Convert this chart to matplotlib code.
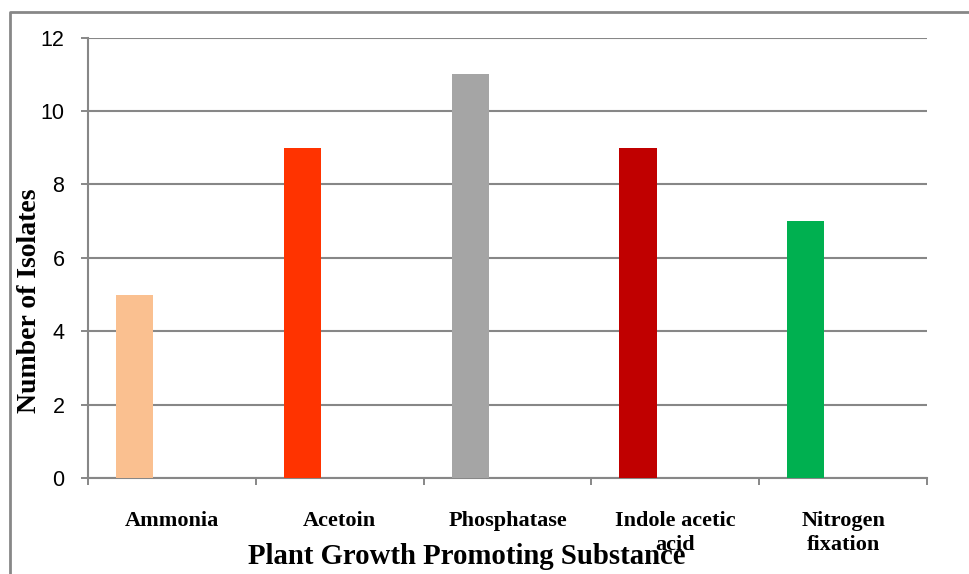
import numpy as np
import matplotlib
matplotlib.use("Agg")
import matplotlib.pyplot as plt
from matplotlib.lines import Line2D

# isolate counts per plant growth promoting substance
categories = ["Ammonia", "Acetoin", "Phosphatase", "Indole acetic\nacid", "Nitrogen\nfixation"]
isolates = [5, 9, 11, 9, 7]
colors = ["#FAC090", "#FF3300", "#A5A5A5", "#C00000", "#00B050"]
yticks = [0, 2, 4, 6, 8, 10, 12]

grey = "#878787"
serif = ["Liberation Serif", "DejaVu Serif"]
sans = ["Liberation Sans", "DejaVu Sans"]

fig = plt.figure(figsize=(9.69, 5.74), dpi=100)
ax = fig.add_axes([88 / 969, 1 - 478 / 574, (927 - 88) / 969, (478 - 37.7) / 574])

# excel-style cluster: 3 slots per category, 150% gap, first slot used
w = 1 / 4.5
x = np.arange(len(categories))
ax.bar(x - w, isolates, width=w, color=colors, zorder=3)

ax.set_xlim(-0.5, len(categories) - 0.5)
ax.set_ylim(0, 12)
ax.set_yticks(yticks)
ax.set_yticklabels([str(v) for v in yticks], fontfamily=sans, fontsize=15.5)
ax.tick_params(axis="y", length=5, width=1.4, color=grey, pad=12)
ax.yaxis.grid(True, color=grey, linewidth=1.5, zorder=0)

# category boundaries carry the tick marks, labels sit at the centers
ax.set_xticks(np.arange(len(categories) + 1) - 0.5)
ax.set_xticklabels([])
ax.tick_params(axis="x", which="major", length=5, width=1.4, color=grey, direction="out")
ax.set_xticks(x, minor=True)
ax.set_xticklabels(categories, minor=True, fontfamily=serif, fontweight="bold",
                   fontsize=16, linespacing=1.25, va="top")
ax.tick_params(axis="x", which="minor", length=0, pad=24)

for side in ["top", "right"]:
    ax.spines[side].set_visible(False)
for side in ["left", "bottom"]:
    ax.spines[side].set_color(grey)
    ax.spines[side].set_linewidth(1.5)

fig.text(467 / 969, 1 - 556 / 574, "Plant Growth Promoting Substance", ha="center", va="center",
         fontfamily=serif, fontweight="bold", fontsize=20.7)
fig.text(30 / 969, 1 - 301 / 574, "Number of Isolates", ha="center", va="center", rotation=90,
         fontfamily=serif, fontweight="bold", fontsize=20)

# outer frame along the left and top edges
fx, fy = 9.5 / 969, 1 - 12 / 574
fig.add_artist(Line2D([fx, fx, 1], [0, fy, fy], transform=fig.transFigure,
                      color=grey, linewidth=2))

fig.savefig("out.png", dpi=100, facecolor="white")
